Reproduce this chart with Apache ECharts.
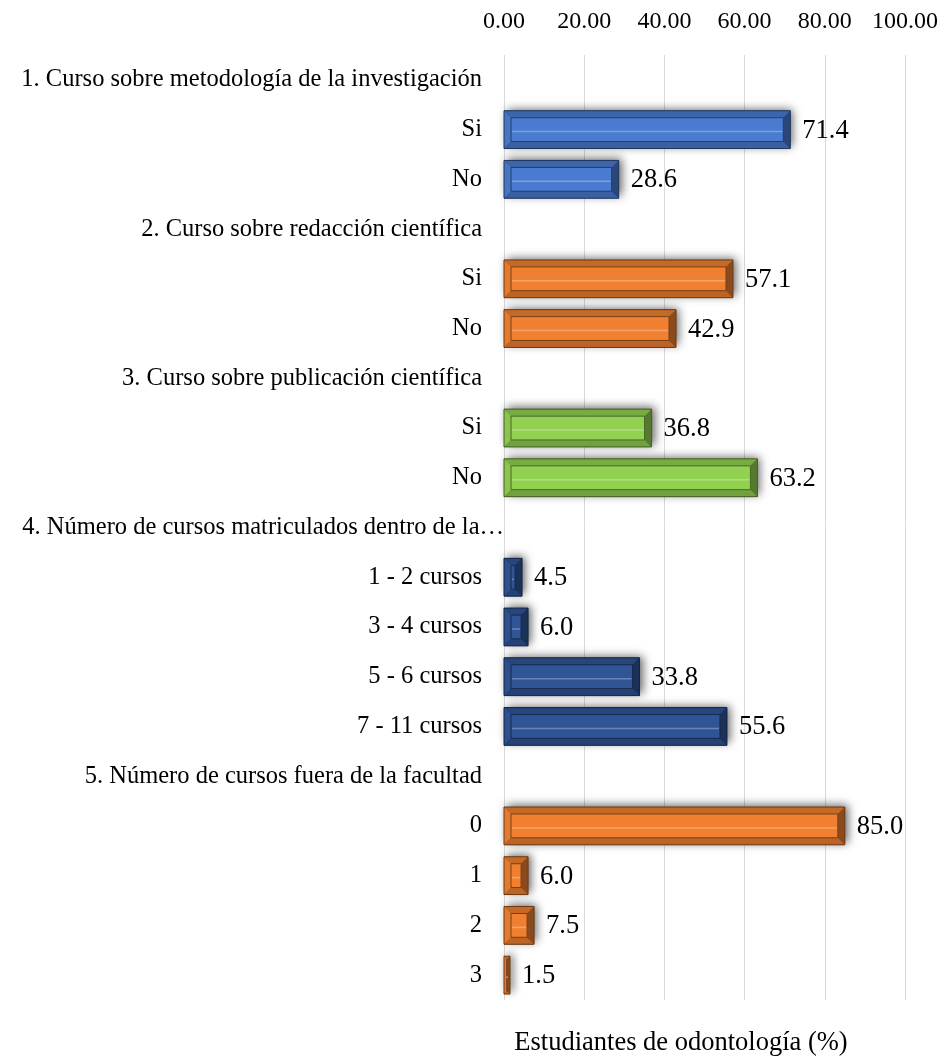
<!DOCTYPE html>
<html>
<head>
<meta charset="utf-8">
<script src="https://cdn.jsdelivr.net/npm/echarts@6/dist/echarts.min.js"></script>
<style>
  html, body { margin: 0; padding: 0; background: #fff; }
  #chart { width: 945px; height: 1057px; }
</style>
</head>
<body>
<div id="chart"></div>
<script>
// Row labels (section headers have no bar)
const categories = [
  '1. Curso sobre metodología de la investigación', 'Si', 'No',
  '2. Curso sobre redacción científica', 'Si', 'No',
  '3. Curso sobre publicación científica', 'Si', 'No',
  '4. Número de cursos matriculados dentro de la…', '1 - 2 cursos', '3 - 4 cursos', '5 - 6 cursos', '7 - 11 cursos',
  '5. Número de cursos fuera de la facultad', '0', '1', '2', '3'
];
// The truncated header sits flush against the plot edge
const flushRow = 9;

// Percentages per section
const metodologia = [71.4, 28.6];
const redaccion = [57.1, 42.9];
const publicacion = [36.8, 63.2];
const cursosDentro = [4.5, 6.0, 33.8, 55.6];
const cursosFuera = [85.0, 6.0, 7.5, 1.5];

const axisTitle = 'Estudiantes de odontología (%)';

const groups = [
  { values: metodologia, start: 1, color: [74, 123, 208] },
  { values: redaccion, start: 4, color: [240, 128, 48] },
  { values: publicacion, start: 7, color: [146, 208, 80] },
  { values: cursosDentro, start: 10, color: [47, 85, 151] },
  { values: cursosFuera, start: 15, color: [240, 128, 48] }
];

const FONT = '"Liberation Serif", "Times New Roman", serif';

function shade(c, f) {
  const m = f >= 0
    ? c.map(v => Math.round(v + (255 - v) * f))
    : c.map(v => Math.round(v * (1 + f)));
  return 'rgb(' + m.join(',') + ')';
}

// Bevelled bar: shadowed base, four sloped edges, flat face and a value label
function makeRender(color) {
  return function (params, api) {
    const v = api.value(0);
    const idx = api.value(1);
    const p0 = api.coord([0, idx]);
    const p1 = api.coord([v, idx]);
    const h = api.size([0, 1])[1] * 0.76;
    const x0 = p0[0], x1 = p1[0];
    const y0 = p0[1] - h / 2, y1 = p0[1] + h / 2;
    const w = x1 - x0;
    const b = Math.min(7, w / 2.2);
    const children = [
      { type: 'rect', shape: { x: x0, y: y0, width: w, height: h },
        style: { fill: shade(color, -0.35), shadowBlur: 9, shadowColor: 'rgba(0,0,0,0.6)', shadowOffsetX: 3, shadowOffsetY: -2 } },
      { type: 'polygon', shape: { points: [[x0, y0], [x1, y0], [x1 - b, y0 + b], [x0 + b, y0 + b]] },
        style: { fill: shade(color, -0.18) } },
      { type: 'polygon', shape: { points: [[x0, y0], [x0 + b, y0 + b], [x0 + b, y1 - b], [x0, y1]] },
        style: { fill: shade(color, -0.05) } },
      { type: 'polygon', shape: { points: [[x0, y1], [x0 + b, y1 - b], [x1 - b, y1 - b], [x1, y1]] },
        style: { fill: shade(color, -0.22) } },
      { type: 'polygon', shape: { points: [[x1, y0], [x1, y1], [x1 - b, y1 - b], [x1 - b, y0 + b]] },
        style: { fill: shade(color, -0.42) } },
      { type: 'rect', shape: { x: x0 + b, y: y0 + b, width: Math.max(0, w - 2 * b), height: h - 2 * b },
        style: { fill: shade(color, 0), stroke: shade(color, -0.5), lineWidth: 1 } },
      { type: 'line', shape: { x1: x0 + b + 1, y1: p0[1] + 2, x2: x1 - b - 1, y2: p0[1] + 2 },
        style: { stroke: shade(color, 0.28), lineWidth: 1.5 } },
      { type: 'rect', shape: { x: x0, y: y0, width: w, height: h },
        style: { fill: null, stroke: shade(color, -0.55), lineWidth: 1 } },
      { type: 'text', style: { text: v.toFixed(1), x: x1 + 12, y: p0[1] + 1, verticalAlign: 'middle', align: 'left',
        font: '26.5px ' + FONT, fill: '#000' } }
    ];
    return { type: 'group', children: children };
  };
}

const series = groups.map(g => ({
  type: 'custom',
  coordinateSystem: 'cartesian2d',
  renderItem: makeRender(g.color),
  encode: { x: 0, y: 1 },
  data: g.values.map((v, i) => [v, g.start + i])
}));

const chart = echarts.init(document.getElementById('chart'), null, { renderer: 'canvas' });
chart.setOption({
  animation: false,
  backgroundColor: '#fff',
  grid: { left: 504, right: 40, top: 55, bottom: 57, containLabel: false },
  xAxis: {
    type: 'value', position: 'top', min: 0, max: 100, interval: 20,
    axisLine: { show: false }, axisTick: { show: false },
    splitLine: { show: true, lineStyle: { color: '#d9d9d9', width: 1 } },
    axisLabel: { margin: 21, color: '#000', fontFamily: FONT, fontSize: 24,
      formatter: v => v.toFixed(2) }
  },
  yAxis: {
    type: 'category', inverse: true, data: categories,
    axisLine: { show: false }, axisTick: { show: false },
    axisLabel: {
      margin: 0, color: '#000', fontFamily: FONT, fontSize: 24.5,
      formatter: (v, i) => (i === flushRow ? '{f|' + v + '}' : '{n|' + v + '}'),
      rich: {
        n: { fontFamily: FONT, fontSize: 24.5, color: '#000', padding: [0, 22, 0, 0] },
        f: { fontFamily: FONT, fontSize: 24.5, color: '#000', padding: [0, 0, 0, 0] }
      }
    }
  },
  graphic: [{
    type: 'text', x: 681, y: 1043,
    style: { text: axisTitle, font: '26.5px ' + FONT, fill: '#000', align: 'center', verticalAlign: 'middle' }
  }],
  series: series
});
</script>
</body>
</html>
